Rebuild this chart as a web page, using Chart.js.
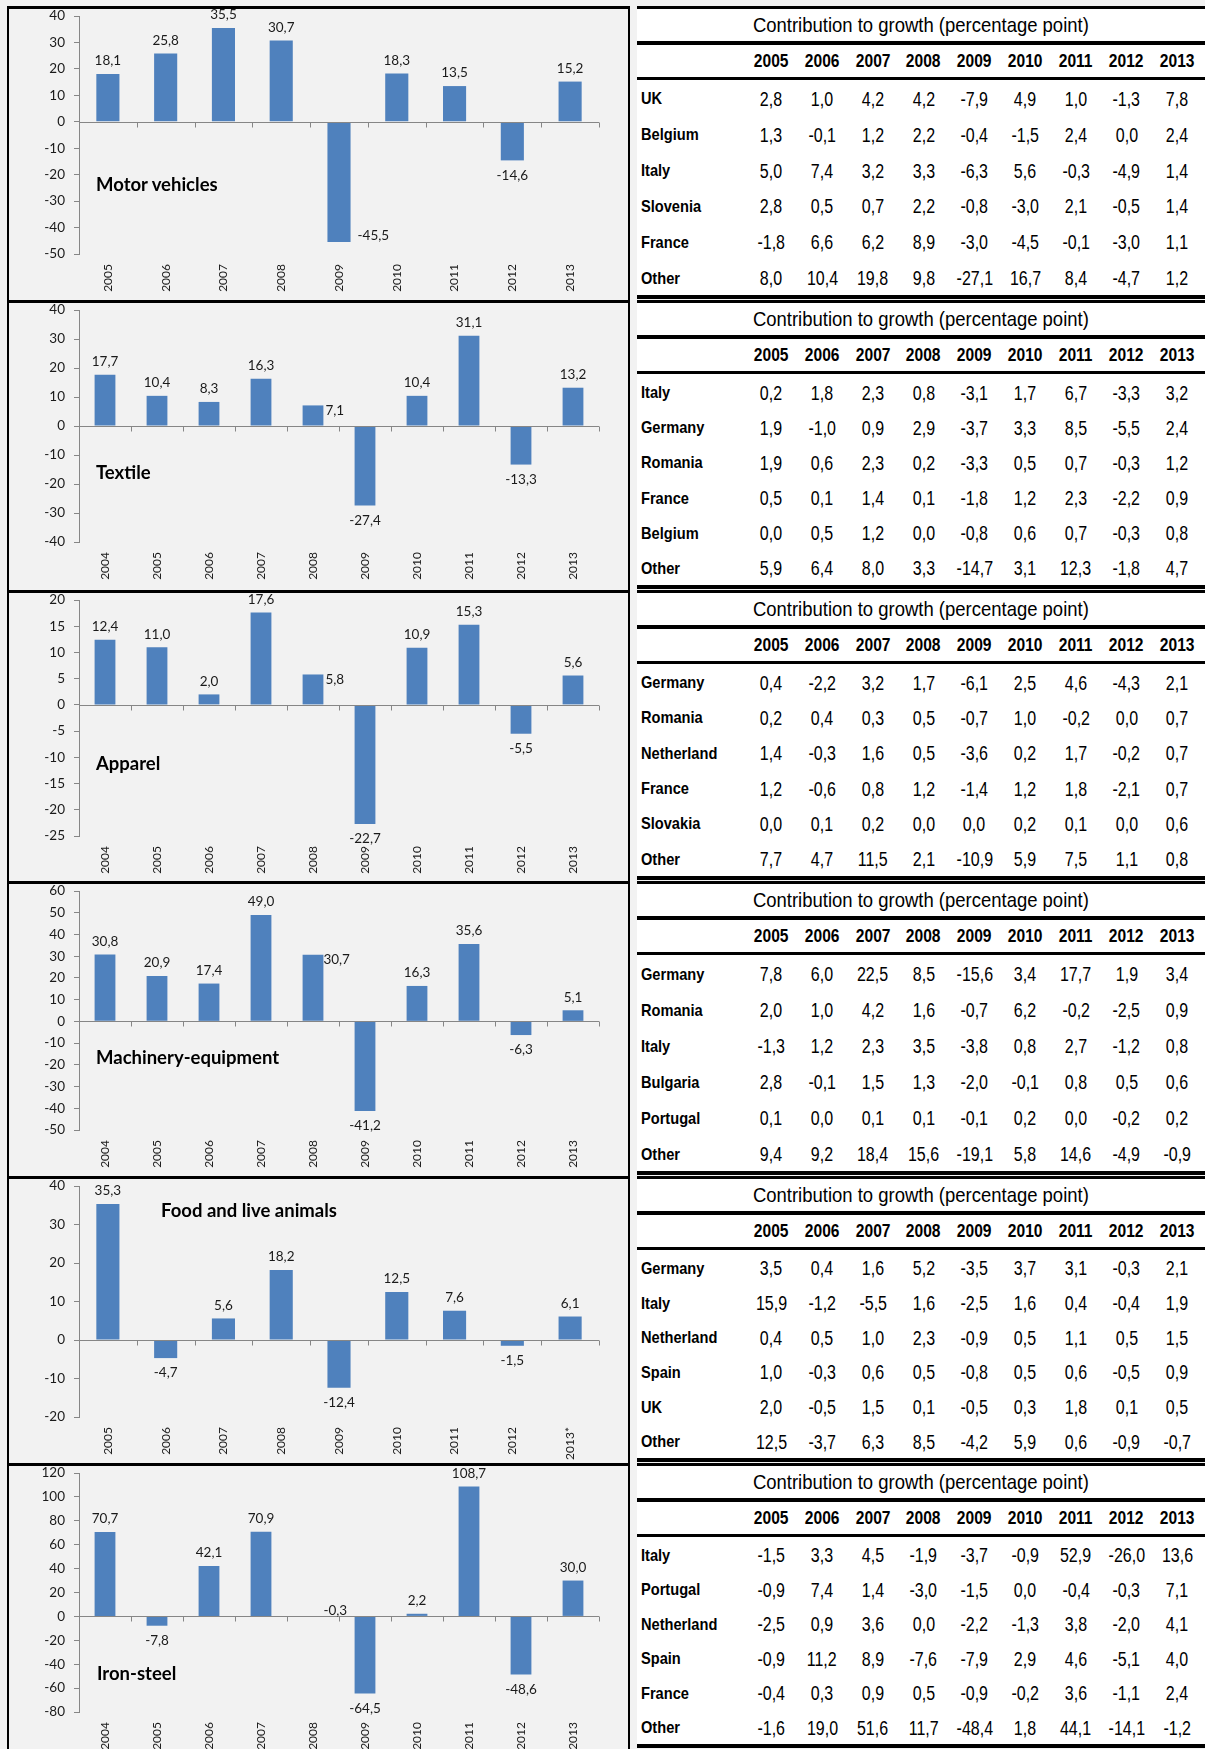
<!DOCTYPE html>
<html>
<head>
<meta charset="utf-8">
<script src="https://cdn.jsdelivr.net/npm/chart.js@4.4.0/dist/chart.umd.min.js"></script>
<style>
  body { margin: 0; background: #f2f2f2; width: 1205px; height: 1749px; position: relative; overflow: hidden; font-family: Lato, sans-serif; }
  .panel { position: absolute; left: 7px; width: 619px; border-left: 2px solid #000; border-right: 2px solid #000; border-top: 3px solid #000; background: #f2f2f2; }
  .panel canvas { position: absolute; left: 0; top: -3px; }
  .ptitle { position: absolute; font: bold 18.5px Lato, sans-serif; color: #000; white-space: nowrap; line-height: 22px; }
  .tbl { position: absolute; left: 637px; width: 568px; background: #fff; border-top: 3px solid #000; border-bottom: 4px solid #000; box-sizing: border-box; display: flex; flex-direction: column; font-family: "Liberation Sans", sans-serif; color: #000; }
  .tbl span { display: inline-block; white-space: nowrap; }
  .tt { height: 32px; line-height: 32px; text-align: center; font-size: 21px; border-bottom: 4px solid #000; }
  .tt span { transform: scaleX(0.88); }
  .row { display: grid; grid-template-columns: 109px repeat(9, 50.75px); align-items: center; }
  .row div { text-align: center; }
  .row div span { transform: scaleX(0.8); }
  .row div:first-child { text-align: left; padding-left: 4px; font-weight: bold; font-size: 17px; }
  .row div:first-child span { transform: scaleX(0.86); transform-origin: left center; }
  .hd { height: 32px; font-weight: bold; font-size: 19px; border-bottom: 3px solid #000; }
  .hd div span { transform: scaleX(0.82); }
  .dr { flex: 1; font-size: 20px; padding-top: 3px; }
</style>
</head>
<body>
<script>
// ---- chart data ----
const motorYears = ['2005', '2006', '2007', '2008', '2009', '2010', '2011', '2012', '2013'];
const motorVals = [18.1, 25.8, 35.5, 30.7, -45.5, 18.3, 13.5, -14.6, 15.2];

const textileYears = ['2004', '2005', '2006', '2007', '2008', '2009', '2010', '2011', '2012', '2013'];
const textileVals = [17.7, 10.4, 8.3, 16.3, 7.1, -27.4, 10.4, 31.1, -13.3, 13.2];

const apparelYears = ['2004', '2005', '2006', '2007', '2008', '2009', '2010', '2011', '2012', '2013'];
const apparelVals = [12.4, 11.0, 2.0, 17.6, 5.8, -22.7, 10.9, 15.3, -5.5, 5.6];

const machineryYears = ['2004', '2005', '2006', '2007', '2008', '2009', '2010', '2011', '2012', '2013'];
const machineryVals = [30.8, 20.9, 17.4, 49.0, 30.7, -41.2, 16.3, 35.6, -6.3, 5.1];

const foodYears = ['2005', '2006', '2007', '2008', '2009', '2010', '2011', '2012', '2013*'];
const foodVals = [35.3, -4.7, 5.6, 18.2, -12.4, 12.5, 7.6, -1.5, 6.1];

const ironYears = ['2004', '2005', '2006', '2007', '2008', '2009', '2010', '2011', '2012', '2013'];
const ironVals = [70.7, -7.8, 42.1, 70.9, -0.3, -64.5, 2.2, 108.7, -48.6, 30.0];

// ---- table data ----
const tableYears = ['2005', '2006', '2007', '2008', '2009', '2010', '2011', '2012', '2013'];

const motorCountries = ['UK', 'Belgium', 'Italy', 'Slovenia', 'France', 'Other'];
const motorTable = [
  [2.8, 1.0, 4.2, 4.2, -7.9, 4.9, 1.0, -1.3, 7.8],
  [1.3, -0.1, 1.2, 2.2, -0.4, -1.5, 2.4, 0.0, 2.4],
  [5.0, 7.4, 3.2, 3.3, -6.3, 5.6, -0.3, -4.9, 1.4],
  [2.8, 0.5, 0.7, 2.2, -0.8, -3.0, 2.1, -0.5, 1.4],
  [-1.8, 6.6, 6.2, 8.9, -3.0, -4.5, -0.1, -3.0, 1.1],
  [8.0, 10.4, 19.8, 9.8, -27.1, 16.7, 8.4, -4.7, 1.2]
];

const textileCountries = ['Italy', 'Germany', 'Romania', 'France', 'Belgium', 'Other'];
const textileTable = [
  [0.2, 1.8, 2.3, 0.8, -3.1, 1.7, 6.7, -3.3, 3.2],
  [1.9, -1.0, 0.9, 2.9, -3.7, 3.3, 8.5, -5.5, 2.4],
  [1.9, 0.6, 2.3, 0.2, -3.3, 0.5, 0.7, -0.3, 1.2],
  [0.5, 0.1, 1.4, 0.1, -1.8, 1.2, 2.3, -2.2, 0.9],
  [0.0, 0.5, 1.2, 0.0, -0.8, 0.6, 0.7, -0.3, 0.8],
  [5.9, 6.4, 8.0, 3.3, -14.7, 3.1, 12.3, -1.8, 4.7]
];

const apparelCountries = ['Germany', 'Romania', 'Netherland', 'France', 'Slovakia', 'Other'];
const apparelTable = [
  [0.4, -2.2, 3.2, 1.7, -6.1, 2.5, 4.6, -4.3, 2.1],
  [0.2, 0.4, 0.3, 0.5, -0.7, 1.0, -0.2, 0.0, 0.7],
  [1.4, -0.3, 1.6, 0.5, -3.6, 0.2, 1.7, -0.2, 0.7],
  [1.2, -0.6, 0.8, 1.2, -1.4, 1.2, 1.8, -2.1, 0.7],
  [0.0, 0.1, 0.2, 0.0, 0.0, 0.2, 0.1, 0.0, 0.6],
  [7.7, 4.7, 11.5, 2.1, -10.9, 5.9, 7.5, 1.1, 0.8]
];

const machineryCountries = ['Germany', 'Romania', 'Italy', 'Bulgaria', 'Portugal', 'Other'];
const machineryTable = [
  [7.8, 6.0, 22.5, 8.5, -15.6, 3.4, 17.7, 1.9, 3.4],
  [2.0, 1.0, 4.2, 1.6, -0.7, 6.2, -0.2, -2.5, 0.9],
  [-1.3, 1.2, 2.3, 3.5, -3.8, 0.8, 2.7, -1.2, 0.8],
  [2.8, -0.1, 1.5, 1.3, -2.0, -0.1, 0.8, 0.5, 0.6],
  [0.1, 0.0, 0.1, 0.1, -0.1, 0.2, 0.0, -0.2, 0.2],
  [9.4, 9.2, 18.4, 15.6, -19.1, 5.8, 14.6, -4.9, -0.9]
];

const foodCountries = ['Germany', 'Italy', 'Netherland', 'Spain', 'UK', 'Other'];
const foodTable = [
  [3.5, 0.4, 1.6, 5.2, -3.5, 3.7, 3.1, -0.3, 2.1],
  [15.9, -1.2, -5.5, 1.6, -2.5, 1.6, 0.4, -0.4, 1.9],
  [0.4, 0.5, 1.0, 2.3, -0.9, 0.5, 1.1, 0.5, 1.5],
  [1.0, -0.3, 0.6, 0.5, -0.8, 0.5, 0.6, -0.5, 0.9],
  [2.0, -0.5, 1.5, 0.1, -0.5, 0.3, 1.8, 0.1, 0.5],
  [12.5, -3.7, 6.3, 8.5, -4.2, 5.9, 0.6, -0.9, -0.7]
];

const ironCountries = ['Italy', 'Portugal', 'Netherland', 'Spain', 'France', 'Other'];
const ironTable = [
  [-1.5, 3.3, 4.5, -1.9, -3.7, -0.9, 52.9, -26.0, 13.6],
  [-0.9, 7.4, 1.4, -3.0, -1.5, 0.0, -0.4, -0.3, 7.1],
  [-2.5, 0.9, 3.6, 0.0, -2.2, -1.3, 3.8, -2.0, 4.1],
  [-0.9, 11.2, 8.9, -7.6, -7.9, 2.9, 4.6, -5.1, 4.0],
  [-0.4, 0.3, 0.9, 0.5, -0.9, -0.2, 3.6, -1.1, 2.4],
  [-1.6, 19.0, 51.6, 11.7, -48.4, 1.8, 44.1, -14.1, -1.2]
];

const fmt = v => v.toFixed(1).replace('.', ',');

// panel layout
const panelTops = [6, 300, 590, 881, 1176, 1463, 1749];
const panels = [
  { title: 'Motor vehicles', cats: motorYears, vals: motorVals, min: -50, max: 40, step: 10, countries: motorCountries, table: motorTable, tx: 96, ty: 178, side: 4, gap: 7, bottom: 248 },
  { title: 'Textile', cats: textileYears, vals: textileVals, min: -40, max: 40, step: 10, countries: textileCountries, table: textileTable, tx: 96, ty: 172, side: 4, gap: 2, bottom: 242 },
  { title: 'Apparel', cats: apparelYears, vals: apparelVals, min: -25, max: 20, step: 5, countries: apparelCountries, table: apparelTable, tx: 96, ty: 173, side: 4, gap: 2, bottom: 246 },
  { title: 'Machinery-equipment', cats: machineryYears, vals: machineryVals, min: -50, max: 60, step: 10, countries: machineryCountries, table: machineryTable, tx: 96, ty: 176, side: 4, gap: 0, bottom: 249 },
  { title: 'Food and live animals', cats: foodYears, vals: foodVals, min: -20, max: 40, step: 10, countries: foodCountries, table: foodTable, tx: 161, ty: 34, side: -1, gap: 2, bottom: 241 },
  { title: 'Iron-steel', cats: ironYears, vals: ironVals, min: -80, max: 120, step: 20, countries: ironCountries, table: ironTable, tx: 97, ty: 210, side: 4, gap: 0, bottom: 249 }
];

// category axis drawn at zero, with ticks between categories
const zeroAxis = {
  id: 'zeroAxis',
  afterDatasetsDraw(chart) {
    const { ctx, chartArea } = chart;
    const x = chart.scales.x, y = chart.scales.y;
    const y0 = Math.round(y.getPixelForValue(0)) + 0.5;
    ctx.save();
    ctx.strokeStyle = '#868686';
    ctx.lineWidth = 1;
    ctx.beginPath();
    ctx.moveTo(chartArea.left, y0);
    ctx.lineTo(chartArea.right, y0);
    for (let i = 1; i <= x.ticks.length; i++) {
      const px = Math.round(x.getPixelForValue(i - 0.5)) + 0.5;
      ctx.moveTo(px, y0);
      ctx.lineTo(px, y0 + 5);
    }
    ctx.stroke();
    ctx.restore();
  }
};

const barLabels = {
  id: 'barLabels',
  afterDatasetsDraw(chart, args, opts) {
    const { ctx } = chart;
    const vals = chart.data.datasets[0].data;
    ctx.save();
    ctx.font = '13.5px Lato';
    ctx.fillStyle = '#1a1a1a';
    ctx.textBaseline = 'middle';
    chart.getDatasetMeta(0).data.forEach((bar, i) => {
      const v = vals[i];
      if (i === opts.side) {
        ctx.textAlign = 'left';
        ctx.fillText(fmt(v), bar.x + bar.width / 2 + opts.gap, v >= 0 ? bar.y + 5 : bar.y - 6);
      } else {
        ctx.textAlign = 'center';
        ctx.fillText(fmt(v), bar.x, v >= 0 ? bar.y - 13 : bar.y + 15);
      }
    });
    ctx.restore();
  }
};

panels.forEach((p, i) => {
  const top = panelTops[i];
  const H = panelTops[i + 1] - top;

  const box = document.createElement('div');
  box.className = 'panel';
  box.style.top = top + 'px';
  box.style.height = (H - 3) + 'px';
  const cv = document.createElement('canvas');
  cv.width = 619;
  cv.height = H;
  box.appendChild(cv);
  const t = document.createElement('div');
  t.className = 'ptitle';
  t.textContent = p.title;
  t.style.left = (p.tx - 9) + 'px';
  t.style.top = (p.ty - 14) + 'px';
  box.appendChild(t);
  document.body.appendChild(box);

  new Chart(cv, {
    type: 'bar',
    data: {
      labels: p.cats,
      datasets: [{ data: p.vals, backgroundColor: '#4f81bd', barPercentage: 0.4, categoryPercentage: 1 }]
    },
    options: {
      responsive: false,
      animation: false,
      devicePixelRatio: 1,
      layout: { padding: { top: 10, right: 29, left: 0, bottom: 0 } },
      plugins: {
        legend: { display: false },
        tooltip: { enabled: false },
        barLabels: { side: p.side, gap: p.gap }
      },
      scales: {
        x: {
          grid: { display: false, drawTicks: false },
          border: { display: false },
          ticks: { maxRotation: 90, minRotation: 90, autoSkip: false, padding: 10, color: '#1a1a1a', font: { family: 'Lato', size: 12 } },
          afterFit(s) { s.height = H - p.bottom; }
        },
        y: {
          min: p.min,
          max: p.max,
          ticks: { stepSize: p.step, padding: 9, color: '#1a1a1a', font: { family: 'Lato', size: 13.5 }, callback: v => String(v) },
          grid: { drawOnChartArea: false, drawTicks: true, tickLength: 5, color: '#868686' },
          border: { color: '#868686' },
          afterFit(s) { s.width = 70; s.paddingTop = 0; s.paddingBottom = 0; }
        }
      }
    },
    plugins: [zeroAxis, barLabels]
  });

  // table
  const tb = document.createElement('div');
  tb.className = 'tbl';
  tb.style.top = top + 'px';
  tb.style.height = (H - 1) + 'px';
  const cell = s => '<div><span>' + s + '</span></div>';
  let html = '<div class="tt"><span>Contribution to growth (percentage point)</span></div>';
  html += '<div class="row hd"><div></div>' + tableYears.map(cell).join('') + '</div>';
  p.countries.forEach((c, r) => {
    html += '<div class="row dr">' + cell(c) + p.table[r].map(v => cell(fmt(v))).join('') + '</div>';
  });
  tb.innerHTML = html;
  document.body.appendChild(tb);
});
</script>
</body>
</html>
